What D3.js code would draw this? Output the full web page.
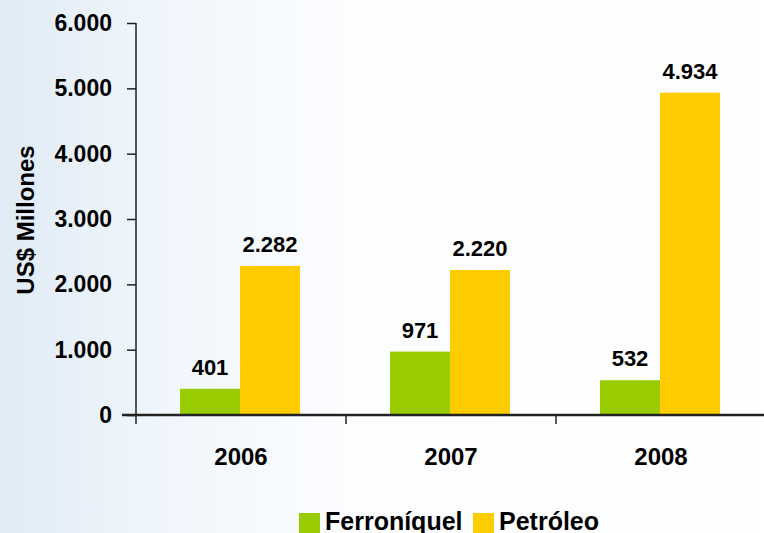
<!DOCTYPE html>
<html>
<head>
<meta charset="utf-8">
<script src="https://cdnjs.cloudflare.com/ajax/libs/d3/7.8.5/d3.min.js"></script>
<style>
  body { margin: 0; padding: 0; }
  svg { display: block; font-family: "Liberation Sans", Arial, sans-serif; font-weight: bold; }
</style>
</head>
<body>
<svg id="chart" width="764" height="533"></svg>
<script>
// data
var years = ['2006', '2007', '2008'];
var series = ['Ferroníquel', 'Petróleo'];
var ferroniquel = [401, 971, 532];
var petroleo = [2282, 2220, 4934];
var yTicks = [0, 1000, 2000, 3000, 4000, 5000, 6000];
var colors = ['#99cc00', '#ffcc00'];

var svg = d3.select('#chart');
var W = 764, H = 533;

// background, light blue on the left fading out
var defs = svg.append('defs');
var grad = defs.append('linearGradient').attr('id', 'bg')
  .attr('x1', 0).attr('y1', 0).attr('x2', 1).attr('y2', 0);
grad.append('stop').attr('offset', '0%').attr('stop-color', '#e0ebf6');
grad.append('stop').attr('offset', '18%').attr('stop-color', '#eef5fb');
grad.append('stop').attr('offset', '45%').attr('stop-color', '#fcfdff');
grad.append('stop').attr('offset', '100%').attr('stop-color', '#ffffff');
svg.append('rect').attr('width', W).attr('height', H).attr('fill', 'url(#bg)');

var plotLeft = 136, plotRight = 766, plotTop = 23, plotBottom = 415;

var x = d3.scaleBand().domain(years).range([plotLeft, plotRight]);
var xInner = d3.scaleBand().domain(series).range([0, 120]);
var y = d3.scaleLinear().domain([0, 6000]).range([plotBottom, plotTop]);

var fmt = function(v) { return d3.format(',')(v).replace(/,/g, '.'); };

// bars
var groups = svg.selectAll('g.year').data(years).enter().append('g')
  .attr('class', 'year')
  .attr('transform', function(d) { return 'translate(' + (x(d) + x.bandwidth() / 2 - 61) + ',0)'; });

var vals = [ferroniquel, petroleo];
groups.each(function(d, i) {
  var g = d3.select(this);
  series.forEach(function(s, j) {
    var v = vals[j][i];
    g.append('rect')
      .attr('x', xInner(s))
      .attr('width', xInner.bandwidth())
      .attr('y', y(v))
      .attr('height', plotBottom - y(v))
      .attr('fill', colors[j]);
    g.append('text')
      .attr('x', xInner(s) + xInner.bandwidth() / 2)
      .attr('y', y(v) - 14)
      .attr('text-anchor', 'middle')
      .attr('font-size', '22px')
      .attr('fill', '#000')
      .text(fmt(v));
  });
});

// y axis
var yAxis = d3.axisLeft(y).tickValues(yTicks).tickSize(9).tickPadding(15).tickFormat(fmt);
var gy = svg.append('g').attr('transform', 'translate(' + plotLeft + ',0)').call(yAxis);
gy.select('.domain').attr('stroke', '#222').attr('stroke-width', 1.5)
  .attr('d', 'M0,' + plotTop + 'V' + (plotBottom + 9));
gy.selectAll('.tick line').attr('stroke', '#222').attr('stroke-width', 1.5);
gy.selectAll('.tick text').attr('font-size', '23px').attr('font-weight', 'bold').attr('fill', '#000')
  .attr('font-family', '"Liberation Sans", Arial, sans-serif');

// x axis
var xAxis = d3.axisBottom(x).tickSize(0).tickPadding(33);
var gx = svg.append('g').attr('transform', 'translate(0,' + plotBottom + ')').call(xAxis);
gx.select('.domain').attr('stroke', '#222').attr('stroke-width', 2.5).attr('d', 'M' + (plotLeft - 14) + ',0H' + W);
gx.selectAll('.tick text').attr('font-size', '24px').attr('font-weight', 'bold').attr('fill', '#000')
  .attr('font-family', '"Liberation Sans", Arial, sans-serif');
// separators between categories
svg.selectAll('line.sep').data(years.slice(1)).enter().append('line')
  .attr('x1', function(d) { return x(d); }).attr('x2', function(d) { return x(d); })
  .attr('y1', plotBottom).attr('y2', plotBottom + 9)
  .attr('stroke', '#222').attr('stroke-width', 1.5);

// y title
svg.append('text')
  .attr('transform', 'translate(34,220) rotate(-90)')
  .attr('text-anchor', 'middle')
  .attr('font-size', '24px')
  .attr('fill', '#000')
  .text('US$ Millones');

// legend
var legX = [299, 473];
series.forEach(function(s, j) {
  svg.append('rect').attr('x', legX[j]).attr('y', 513).attr('width', 21).attr('height', 20).attr('fill', colors[j]);
  svg.append('text').attr('x', legX[j] + 26).attr('y', 530).attr('font-size', '25px').attr('fill', '#000').text(s);
});
</script>
</body>
</html>
